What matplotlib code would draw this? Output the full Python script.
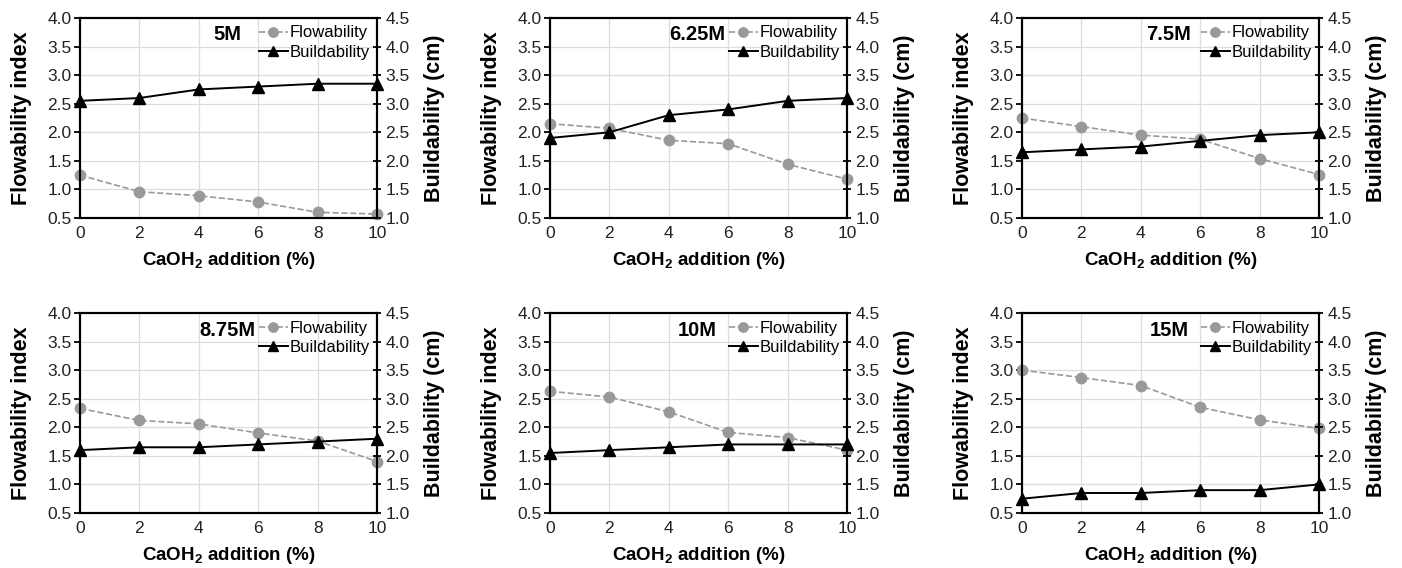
import numpy as np
import matplotlib
matplotlib.use("Agg")
import matplotlib.pyplot as plt

plt.rcParams['font.family'] = ['Liberation Sans', 'DejaVu Sans']
plt.rcParams['mathtext.fontset'] = 'custom'
plt.rcParams['mathtext.rm'] = 'Liberation Sans'
plt.rcParams['mathtext.bf'] = 'Liberation Sans:bold'

# =========================
# Data
# =========================
caoh2 = [0, 2, 4, 6, 8, 10]
molarity = ["5M", "6.25M", "7.5M", "8.75M", "10M", "15M"]

# flowability index (left axis)
flow_5 = [1.25, 0.96, 0.89, 0.78, 0.60, 0.57]
flow_625 = [2.15, 2.07, 1.86, 1.80, 1.44, 1.18]
flow_75 = [2.25, 2.10, 1.95, 1.88, 1.54, 1.26]
flow_875 = [2.33, 2.12, 2.06, 1.90, 1.76, 1.40]
flow_10 = [2.63, 2.53, 2.27, 1.91, 1.82, 1.60]
flow_15 = [3.00, 2.87, 2.73, 2.35, 2.13, 1.98]

# buildability in cm (right axis)
build_5 = [3.05, 3.10, 3.25, 3.30, 3.35, 3.35]
build_625 = [2.40, 2.50, 2.80, 2.90, 3.05, 3.10]
build_75 = [2.15, 2.20, 2.25, 2.35, 2.45, 2.50]
build_875 = [2.10, 2.15, 2.15, 2.20, 2.25, 2.30]
build_10 = [2.05, 2.10, 2.15, 2.20, 2.20, 2.20]
build_15 = [1.25, 1.35, 1.35, 1.40, 1.40, 1.50]

flows = [flow_5, flow_625, flow_75, flow_875, flow_10, flow_15]
builds = [build_5, build_625, build_75, build_875, build_10, build_15]

# =========================
# Plot
# =========================
fig = plt.figure(figsize=(14.02, 5.68), dpi=100)

W, H = 1402, 568
lefts = [80, 550, 1022]
tops = [18, 313]
ax_w, ax_h = 297, 200

tick_col = "#222222"
fmt = matplotlib.ticker.FormatStrFormatter('%.1f')
for i in range(6):
    r, c = divmod(i, 3)
    rect = [lefts[c] / W, 1 - (tops[r] + ax_h) / H, ax_w / W, ax_h / H]
    ax = fig.add_axes(rect)
    ax2 = ax.twinx()

    ax.plot(caoh2, flows[i], '--o', color="#999999", markersize=7.5,
            linewidth=1.2, label="Flowability", zorder=3, clip_on=False)
    l2, = ax2.plot(caoh2, builds[i], '-^', color="black", markersize=8,
                   linewidth=1.4, label="Buildability", zorder=3, clip_on=False)

    ax.set_xlim(0, 10)
    ax.set_ylim(0.5, 4.0)
    ax2.set_ylim(1.0, 4.5)
    ax.set_xticks(np.arange(0, 11, 2))
    ax.set_yticks(np.arange(0.5, 4.01, 0.5))
    ax2.set_yticks(np.arange(1.0, 4.51, 0.5))
    ax.yaxis.set_major_formatter(fmt)
    ax2.yaxis.set_major_formatter(fmt)

    ax.grid(True, color="#dddddd", linewidth=0.9)
    ax.set_axisbelow(True)

    for sp in list(ax.spines.values()) + list(ax2.spines.values()):
        sp.set_linewidth(1.5)

    ax.tick_params(axis='y', direction='out', length=4, width=1.3,
                   labelsize=12.5, labelcolor=tick_col, pad=2)
    ax.tick_params(axis='x', length=0, labelsize=12.5, labelcolor=tick_col, pad=6)
    ax2.tick_params(axis='y', direction='inout', length=6, width=1.3,
                    labelsize=12.5, labelcolor=tick_col, pad=3)

    ax.set_ylabel("Flowability index", fontsize=15.5, fontweight='bold', labelpad=11)
    ax2.set_ylabel("Buildability (cm)", fontsize=15.5, fontweight='bold', labelpad=10)
    ax.set_xlabel(r"CaOH$_\mathbf{2}$ addition (%)", fontsize=13.5, fontweight='bold',
                  labelpad=6)

    ax.text(0.495, 0.915, molarity[i], transform=ax.transAxes, fontsize=14.5,
            fontweight='bold', ha='center', va='center')

    h1, lab1 = ax.get_legend_handles_labels()
    ax2.legend(h1 + [l2], lab1 + ["Buildability"], loc='upper right',
               frameon=False, fontsize=12, numpoints=1, handlelength=1.7,
               handletextpad=0.1, labelspacing=0.25, borderaxespad=0.15,
               borderpad=0.3, markerscale=0.9)

plt.savefig("out.png", dpi=100)
